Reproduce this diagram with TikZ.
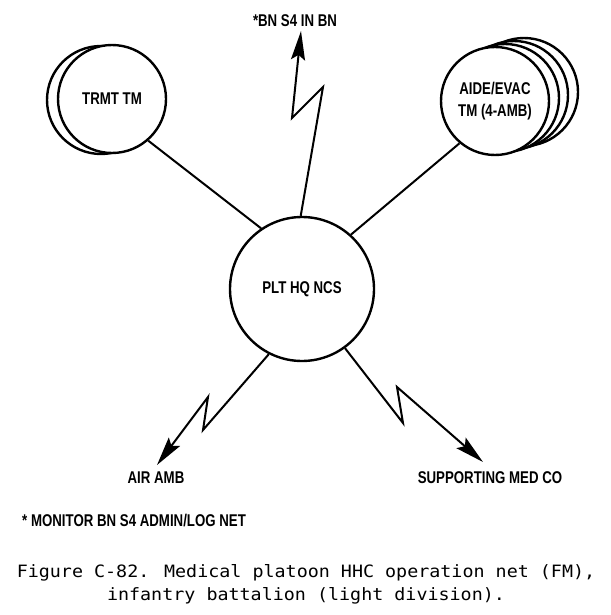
\documentclass[tikz,border=0pt]{standalone}
\usepackage{fontspec}
\usetikzlibrary{arrows.meta}
\newfontfamily\lblfont[FakeStretch=0.78]{Liberation Sans}
\newfontfamily\capfont[FakeStretch=1.08]{DejaVu Sans Mono}

\begin{document}
\begin{tikzpicture}[x=1pt,y=-1pt,
  team/.style={circle,draw,line width=2.4pt,fill=white,inner sep=0pt,align=center,
    font=\lblfont\bfseries\fontsize{17}{21.5}\selectfont},
  backcirc/.style={draw,line width=2.4pt,fill=white},
  lbl/.style={inner sep=0pt,font=\lblfont\bfseries\fontsize{17}{19}\selectfont},
  link/.style={line width=2pt},
  radio/.style={line width=2pt,-{Stealth[length=29pt,width=14pt,inset=5pt]}},
  capt/.style={inner sep=0pt,anchor=base,font=\capfont\fontsize{17}{23}\selectfont}]

\useasboundingbox (0,0) rectangle (610,615);

% Stacked team circles (back ones first)
\draw[backcirc] (101,100) circle[radius=54];
\foreach \dx/\dy in {29/-9, 19/-6, 10/-3}
  \draw[backcirc] (495+\dx,101+\dy) circle[radius=54];

% Team nodes
\node[team,minimum size=108pt] (trmt) at (112,99) {TRMT TM};
\node[team,minimum size=108pt] (aide) at (495,101) {AIDE/EVAC\\TM (4-AMB)};
\node[team,minimum size=144pt] (hq) at (302,289) {PLT HQ NCS};

% Wire links
\draw[link] (trmt.311.5) -- (hq.124.7);
\draw[link] (aide.230) -- (hq.48.2);

% Radio labels
\node[lbl] (bns4) at (295,21) {*BN S4 IN BN};
\node[lbl] (airamb) at (156,478) {AIR AMB};
\node[lbl] (medco) at (490,478) {SUPPORTING MED CO};
\node[lbl,anchor=west] (monitor) at (22,521) {* MONITOR BN S4 ADMIN/LOG NET};

% Zig points and arrow tips
\coordinate (bnz1) at (323,87);
\coordinate (bnz2) at (292,118);
\coordinate (bntip) at (301,31);
\coordinate (airz1) at (203,430);
\coordinate (airz2) at (208,397);
\coordinate (airtip) at (157,465);
\coordinate (medz1) at (403,423);
\coordinate (medz2) at (397,387);
\coordinate (medtip) at (483,462);

% Radio links
\draw[radio] (hq.91.5) -- (bnz1) -- (bnz2) -- (bntip);
\draw[radio] (hq.243) -- (airz1) -- (airz2) -- (airtip);
\draw[radio] (hq.306) -- (medz1) -- (medz2) -- (medtip);

% Caption
\node[capt] (cap1) at (306,577) {Figure C-82. Medical platoon HHC operation net (FM),};
\node[capt] (cap2) at (306,600) {infantry battalion (light division).};

\end{tikzpicture}
\end{document}
